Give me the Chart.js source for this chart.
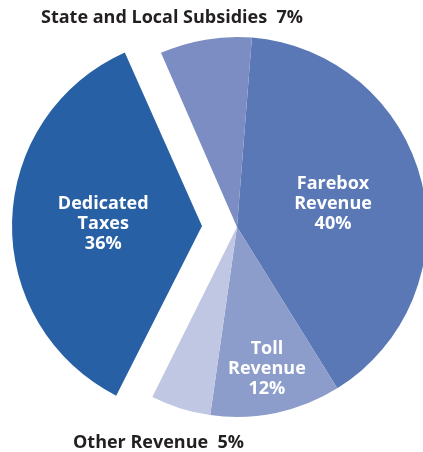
<!DOCTYPE html>
<html>
<head>
<meta charset="utf-8">
<script src="https://cdn.jsdelivr.net/npm/chart.js@4"></script>
<style>
  html, body { margin: 0; padding: 0; background: #fff; }
  #wrap { width: 423px; height: 452px; }
</style>
</head>
<body>
<div id="wrap"><canvas id="revChart"></canvas></div>
<script>
/* DATA */
const categories = ["Farebox Revenue", "Toll Revenue", "Other Revenue", "Dedicated Taxes", "State and Local Subsidies"];
// slice shares as drawn in the picture
const shares = [39.9, 11.1, 5.1, 36.1, 7.8];
// percentages printed on the labels
const labelPct = ["40%", "12%", "5%", "36%", "7%"];
const colors = ["#5b78b6", "#8c9dcb", "#c0c7e3", "#2860a5", "#7b8dc2"];

/* keep the pulled-out slice the same size as the others
   (chart.js grows an offset arc by offset/4 * (1 - sin(circumference))) */
const sameRadius = {
    id: "sameRadius",
    beforeDatasetsDraw(chart) {
        chart.getDatasetMeta(0).data.forEach(a => {
            const off = (a.options.offset || 0) / 4;
            if (!off) return;
            const fix = 1 - Math.sin(Math.min(Math.PI, a.circumference));
            a.outerRadius = chart.options.radius - off * fix;
        });
    }
};

/* LABELS */
const labelPlugin = {
    id: "sliceLabels",
    afterDatasetsDraw(chart) {
        const ctx = chart.ctx;
        const arcs = chart.getDatasetMeta(0).data;
        ctx.save();
        ctx.font = "bold 18px 'Open Sans'";
        ctx.fillStyle = "#fff";
        ctx.textAlign = "center";
        ctx.textBaseline = "middle";

        // inside labels: [index, lines, radial factor]
        const inside = [
            [0, ["Farebox", "Revenue", labelPct[0]], 0.52],
            [1, ["Toll", "Revenue", labelPct[1]], 0.765],
            [3, ["Dedicated", "Taxes", labelPct[3]], 0.52]
        ];
        inside.forEach(([i, lines, f]) => {
            const a = arcs[i];
            const p = a.getProps(["x", "y", "startAngle", "endAngle"], true);
            const mid = (p.startAngle + p.endAngle) / 2;
            // arc element moves by offset / 4 when drawn
            const r = chart.options.radius * f + (a.options.offset || 0) / 4;
            const cx = p.x + Math.cos(mid) * r;
            const cy = p.y + Math.sin(mid) * r;
            lines.forEach((t, k) => ctx.fillText(t, cx, cy + (k - 1) * 20));
        });

        // outside labels
        ctx.fillStyle = "#231f20";
        ctx.font = "bold 18px 'Open Sans'";
        ctx.textAlign = "left";
        ctx.textBaseline = "alphabetic";
        ctx.fillText(categories[4] + "  " + labelPct[4], 41, 23);
        ctx.fillText(categories[2] + "  " + labelPct[2], 73, 448);
        ctx.restore();
    }
};

/* PIE CHART */
new Chart(document.getElementById("revChart"), {
    type: "pie",
    data: {
        labels: categories,
        datasets: [{
            data: shares,
            backgroundColor: colors,
            borderWidth: 0,
            offset: [0, 0, 0, 140, 0],
            clip: false
        }]
    },
    options: {
        responsive: true,
        maintainAspectRatio: false,
        animation: false,
        rotation: 4.5,
        radius: 190,
        layout: { padding: { left: 51, right: 0, top: 2, bottom: 0 } },
        plugins: {
            legend: { display: false },
            tooltip: { enabled: false }
        }
    },
    plugins: [sameRadius, labelPlugin]
});
</script>
</body>
</html>
